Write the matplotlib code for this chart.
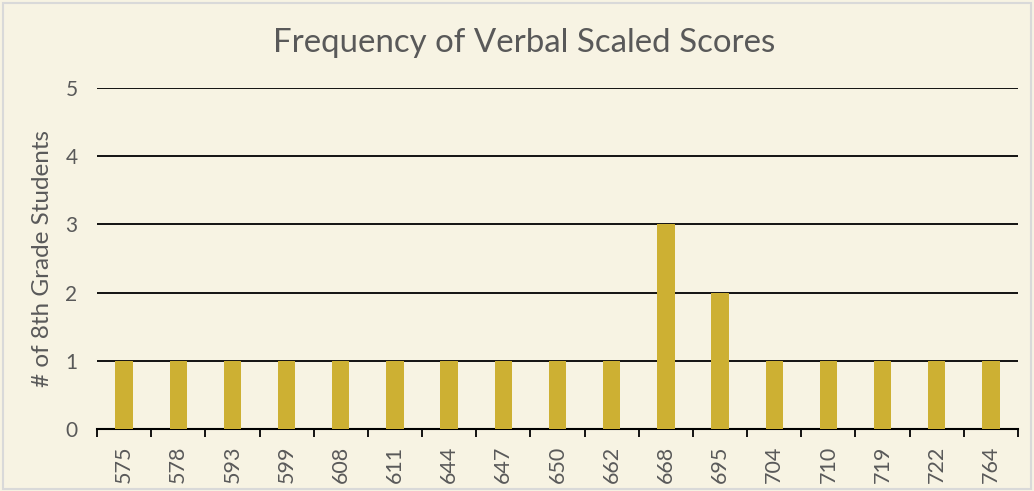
import matplotlib
matplotlib.use("Agg")
import matplotlib.pyplot as plt
from matplotlib.patches import Rectangle
import numpy as np

scores = ["575", "578", "593", "599", "608", "611", "644", "647", "650",
          "662", "668", "695", "704", "710", "719", "722", "764"]
counts = [1, 1, 1, 1, 1, 1, 1, 1, 1, 1, 3, 2, 1, 1, 1, 1, 1]
yticks = [0, 1, 2, 3, 4, 5]

bg = "#F7F3E3"
bar_color = "#CDB033"
text_color = "#595959"

plt.rcParams['font.family'] = ['Lato', 'DejaVu Sans']

fig = plt.figure(figsize=(10.34, 4.91), dpi=100, facecolor=bg)
ax = fig.add_axes([97/1034, 1 - 429/491, (1018-97)/1034, (429-88)/491])
ax.set_facecolor(bg)

x = np.arange(len(scores))
ax.bar(x, counts, width=0.32, color=bar_color, zorder=3)
ax.set_xlim(-0.5, len(scores) - 0.5)
ax.set_ylim(0, 5)
ax.set_yticks(yticks)
ax.set_yticklabels([str(t) for t in yticks], fontsize=15, color=text_color)
ax.yaxis.grid(True, color="black", linewidth=1.3, zorder=0)
ax.set_axisbelow(True)
ax.tick_params(axis='y', length=0, pad=14)

ax.set_xticks(x)
ax.set_xticklabels(scores, rotation=90, fontsize=15.5, color=text_color)
ax.tick_params(axis='x', which='major', length=0, pad=12)
ax.set_xticks(np.arange(len(scores) + 1) - 0.5, minor=True)
ax.tick_params(axis='x', which='minor', length=6, width=1.3, color="black", direction='out')

for s in ['top', 'right', 'left']:
    ax.spines[s].set_visible(False)
ax.spines['bottom'].set_color("black")
ax.spines['bottom'].set_linewidth(1.5)

ax.set_ylabel("# of 8th Grade Students", fontsize=17.5, color=text_color, labelpad=9)
fig.text(524/1034, 1 - 43/491, "Frequency of Verbal Scaled Scores", ha='center', va='center',
         fontsize=23.8, color=text_color)

fig.patches.append(Rectangle((3/1034, 2/491), 1028/1034, 486/491, transform=fig.transFigure,
                             fill=False, edgecolor="#D9D9D9", linewidth=1.5))

fig.savefig("out.png", dpi=100, facecolor=bg)
